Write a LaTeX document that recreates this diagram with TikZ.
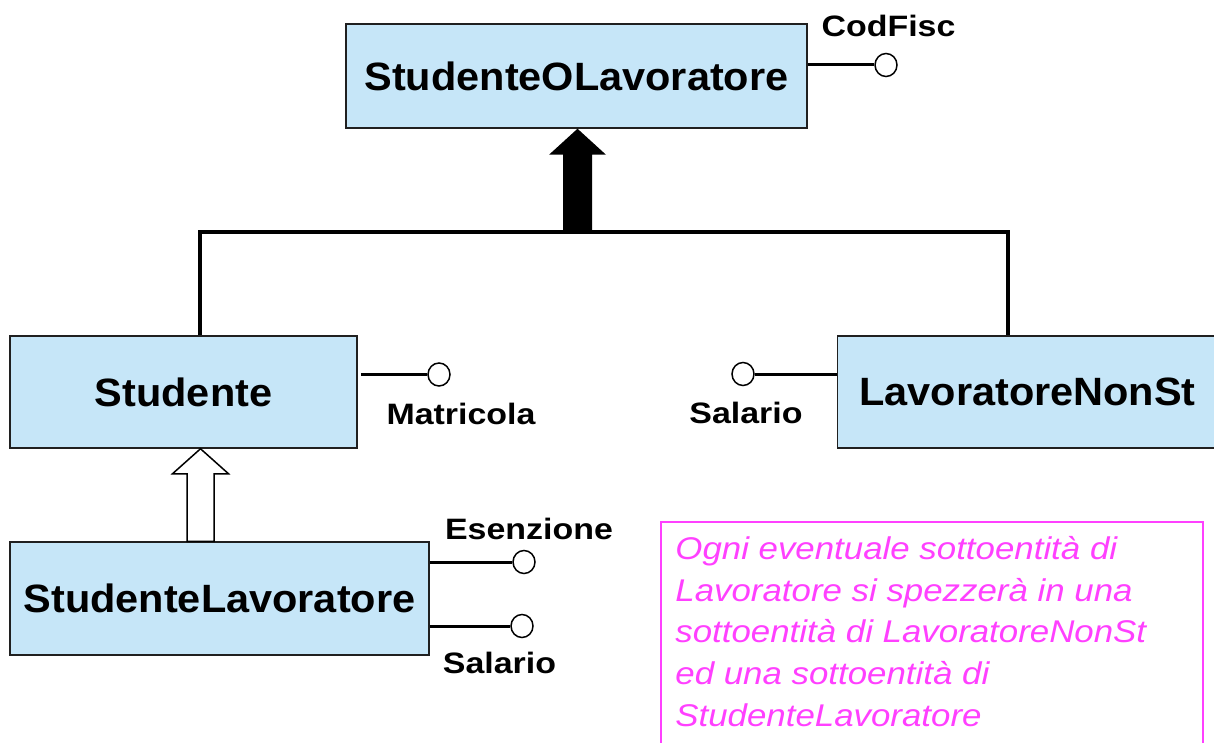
\documentclass[tikz,border=0pt]{standalone}
\usepackage{fontspec}
\setmainfont{Liberation Sans}
\newfontfamily\titlefont{Liberation Sans}[FakeStretch=1.05]
\newfontfamily\attrfont{Liberation Sans}[FakeStretch=1.15]
\newfontfamily\notefont{Liberation Sans}[FakeStretch=1.11]
\usetikzlibrary{shapes.geometric,calc}
\definecolor{boxblue}{HTML}{C6E6F8}
\definecolor{notepink}{HTML}{FF40FF}
\definecolor{boxedge}{HTML}{202020}
\begin{document}
\begin{tikzpicture}[x=0.5pt,y=-0.5pt,
  entity/.style={draw=boxedge, line width=0.75pt, fill=boxblue, inner sep=0pt,
    font=\titlefont\bfseries\fontsize{19.75pt}{23pt}\selectfont},
  attrc/.style={draw=black, fill=white, ellipse, line width=0.75pt, inner sep=0pt,
    minimum width=11pt, minimum height=11.5pt},
  attrline/.style={line width=1.5pt},
  attrlbl/.style={inner sep=0pt, font=\attrfont\bfseries\fontsize{14.75pt}{18pt}\selectfont},
  isaline/.style={line width=2.2pt, line join=miter},
  harrow/.style={draw=black, fill=white, line width=0.75pt, line join=miter},
  notebox/.style={draw=notepink, line width=0.75pt, inner sep=0pt},
  notetext/.style={inner sep=0pt, align=left, text=notepink,
    font=\notefont\itshape\fontsize{15.7pt}{20.85pt}\selectfont}]
\useasboundingbox (0,0) rectangle (1214,743);

% entities
\node[entity, minimum width=230.5pt, minimum height=52pt] (sol) at (576.5,76) {StudenteOLavoratore};
\node[entity, minimum width=173.5pt, minimum height=56pt] (stu) at (183.5,392) {Studente};
\node[entity, minimum width=190pt, minimum height=56pt] (lns) at (1027.5,392) {LavoratoreNonSt};
\node[entity, minimum width=209.5pt, minimum height=56.5pt] (sl) at (219.5,598.5) {StudenteLavoratore};

% generalization bar (total)
\coordinate (bl) at (200,232);
\coordinate (br) at (1008,232);
\draw[isaline] (stu.north -| bl) -- (bl) -- (br) -- (lns.north -| br);

% black arrow
\coordinate (ax1) at (577.5,232);
\fill[black] (sol.south -| ax1) -- ++(28.5,26) -- ++(-14,0) -- ($(ax1)+(14.5,0)$)
  -- ($(ax1)+(-14.5,0)$) -- ($(sol.south -| ax1)+(-14.5,26)$) -- ++(-14,0) -- cycle;

% hollow arrow
\coordinate (ax2) at (200.5,0);
\draw[harrow] (stu.south -| ax2) -- ++(28,25) -- ++(-14.5,0) -- ($(sl.north -| ax2)+(13.5,0)$)
  -- ($(sl.north -| ax2)+(-13.5,0)$) -- ($(stu.south -| ax2)+(-13.5,25)$) -- ++(-14.5,0) -- cycle;

% attribute circles
\node[attrc] (ccf) at (886,65) {};
\node[attrc] (cma) at (439,374.5) {};
\node[attrc] (csa1) at (743,374) {};
\node[attrc] (ces) at (524,562) {};
\node[attrc] (csa2) at (522,626) {};

% attribute lines
\draw[attrline] (ccf -| sol.east) -- (ccf.west);
\draw[attrline] ([xshift=1.5pt]cma -| stu.east) -- (cma.west);
\draw[attrline] (csa1.east) -- (csa1 -| lns.west);
\draw[attrline] (ces -| sl.east) -- (ces.west);
\draw[attrline] (csa2 -| sl.east) -- (csa2.west);

% attribute labels
\node[attrlbl, anchor=base] (lcf) at (888.5,37) {CodFisc};
\node[attrlbl, anchor=base] (lma) at (461,424) {Matricola};
\node[attrlbl, anchor=base] (lsa1) at (746,423) {Salario};
\node[attrlbl, anchor=base] (les) at (529,539) {Esenzione};
\node[attrlbl, anchor=base] (lsa2) at (499.5,673) {Salario};

% note
\node[notebox, anchor=north west, minimum width=271pt, minimum height=130pt] (note) at (660,521) {};
\node[notetext, anchor=north west] (notetxt) at (675,536) {Ogni eventuale sottoentità di\\Lavoratore si spezzerà in una\\sottoentità di LavoratoreNonSt\\ed una sottoentità di\\StudenteLavoratore};
\end{tikzpicture}
\end{document}
